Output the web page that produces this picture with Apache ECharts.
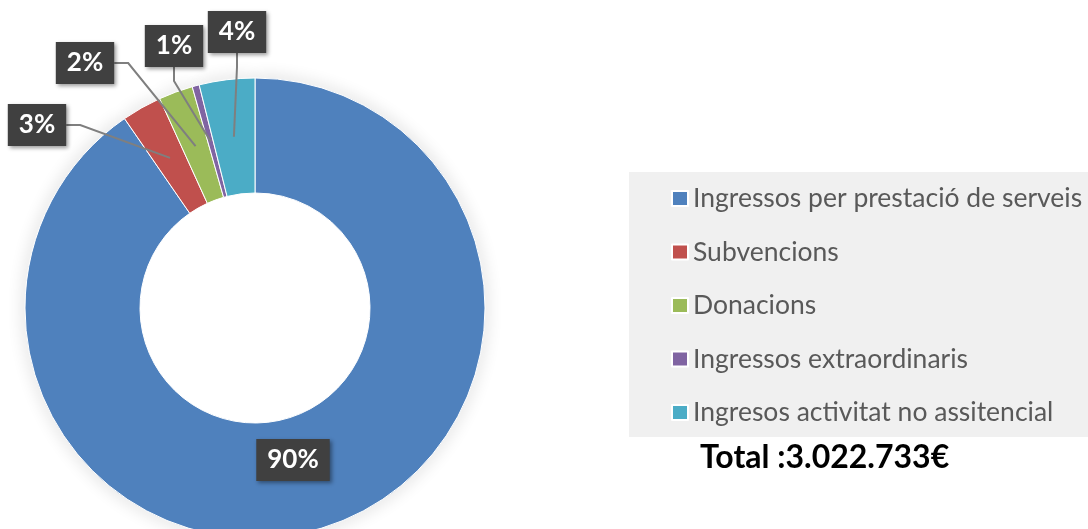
<!DOCTYPE html>
<html>
<head>
<meta charset="utf-8">
<script src="https://cdn.jsdelivr.net/npm/echarts@6/dist/echarts.min.js"></script>
<style>
  html, body { margin: 0; padding: 0; background: #fff; }
  #ingressos-chart { width: 1088px; height: 529px; }
</style>
</head>
<body>
<div id="ingressos-chart"></div>
<script>
// Categories and shares (percent of total)
var categories = [
    'Ingressos per prestació de serveis',
    'Subvencions',
    'Donacions',
    'Ingressos extraordinaris',
    'Ingresos activitat no assitencial'
];
var shares = [90.4, 2.8, 2.4, 0.5, 3.9];
var totalText = 'Total :3.022.733€';

var colors = ['#4f81bd', '#c0504d', '#9bbb59', '#8064a2', '#4bacc6'];

// pie geometry (pixels)
var cx = 255, cy = 308, rIn = 115, rOut = 230;

// where each label box sits (centre)
var labelPos = [[293, 460], [37, 125], [85, 63], [174, 46], [237, 32]];

var chartDiv = document.getElementById('ingressos-chart');
var chart = echarts.init(chartDiv);

var ringData = categories.map(function(name, i) {
    return { name: name, value: shares[i], itemStyle: { color: colors[i] } };
});

// invisible copy reaching to the middle of the ring, it only carries the labels
// so that the leader lines end inside the slices
var labelData = categories.map(function(name, i) {
    var item = { name: name, value: shares[i] };
    if (i === 0) {
        item.label = { position: 'inside' };
        item.labelLine = { show: false };
    }
    return item;
});

var option = {
    animation: false,
    graphic: [{
        type: 'rect',
        z: -1,
        shape: { x: 629, y: 172, width: 459, height: 265 },
        style: { fill: '#f0f0f0' }
    }],
    title: {
        text: totalText,
        left: 700,
        top: 442,
        padding: 0,
        textStyle: {
            fontFamily: 'Lato',
            fontSize: 32,
            fontWeight: 'bold',
            color: '#000'
        }
    },
    legend: {
        orient: 'vertical',
        left: 671,
        top: 185,
        padding: 0,
        itemWidth: 16,
        itemHeight: 15,
        itemGap: 26.5,
        icon: 'rect',
        selectedMode: false,
        data: categories,
        textStyle: {
            fontFamily: 'Lato',
            fontSize: 26.5,
            lineHeight: 24,
            color: '#595959'
        }
    },
    series: [{
        type: 'pie',
        z: 3,
        center: [cx, cy],
        radius: [rIn, rOut],
        startAngle: 90,
        label: { show: false },
        labelLine: { show: false },
        itemStyle: { borderColor: '#fff', borderWidth: 1 },
        emphasis: { disabled: true },
        data: ringData
    }, {
        // soft shadow round the outer edge of the ring
        type: 'pie',
        z: 1,
        silent: true,
        center: [cx, cy],
        radius: [rOut - 4, rOut],
        startAngle: 90,
        label: { show: false },
        labelLine: { show: false },
        itemStyle: {
            color: '#fff',
            borderWidth: 0,
            shadowBlur: 16,
            shadowColor: 'rgba(0,0,0,0.3)'
        },
        emphasis: { disabled: true },
        data: shares
    }, {
        type: 'pie',
        z: 5,
        silent: true,
        center: [cx, cy],
        radius: [0, (rIn + rOut) / 2],
        startAngle: 90,
        avoidLabelOverlap: false,
        itemStyle: { color: 'rgba(0,0,0,0)', borderWidth: 0 },
        label: {
            show: true,
            position: 'outside',
            formatter: function(p) {
                return Math.round(p.value) + '%';
            },
            fontFamily: 'Lato',
            fontSize: 26,
            fontWeight: 'bold',
            color: '#fff',
            backgroundColor: '#404040',
            padding: [8, 11],
            shadowBlur: 4,
            shadowOffsetX: 2,
            shadowOffsetY: 2,
            shadowColor: 'rgba(0,0,0,0.4)'
        },
        labelLine: {
            show: true,
            length: 10,
            length2: 14,
            lineStyle: { color: '#7f7f7f', width: 2 }
        },
        labelLayout: function(params) {
            var p = labelPos[params.dataIndex];
            return { x: p[0], y: p[1], align: 'center', verticalAlign: 'middle', hideOverlap: false };
        },
        emphasis: { disabled: true },
        data: labelData
    }]
};

chart.setOption(option);

window.addEventListener('resize', function() {
    setTimeout(function() {
        chart.resize();
    }, 200);
});
</script>
</body>
</html>
